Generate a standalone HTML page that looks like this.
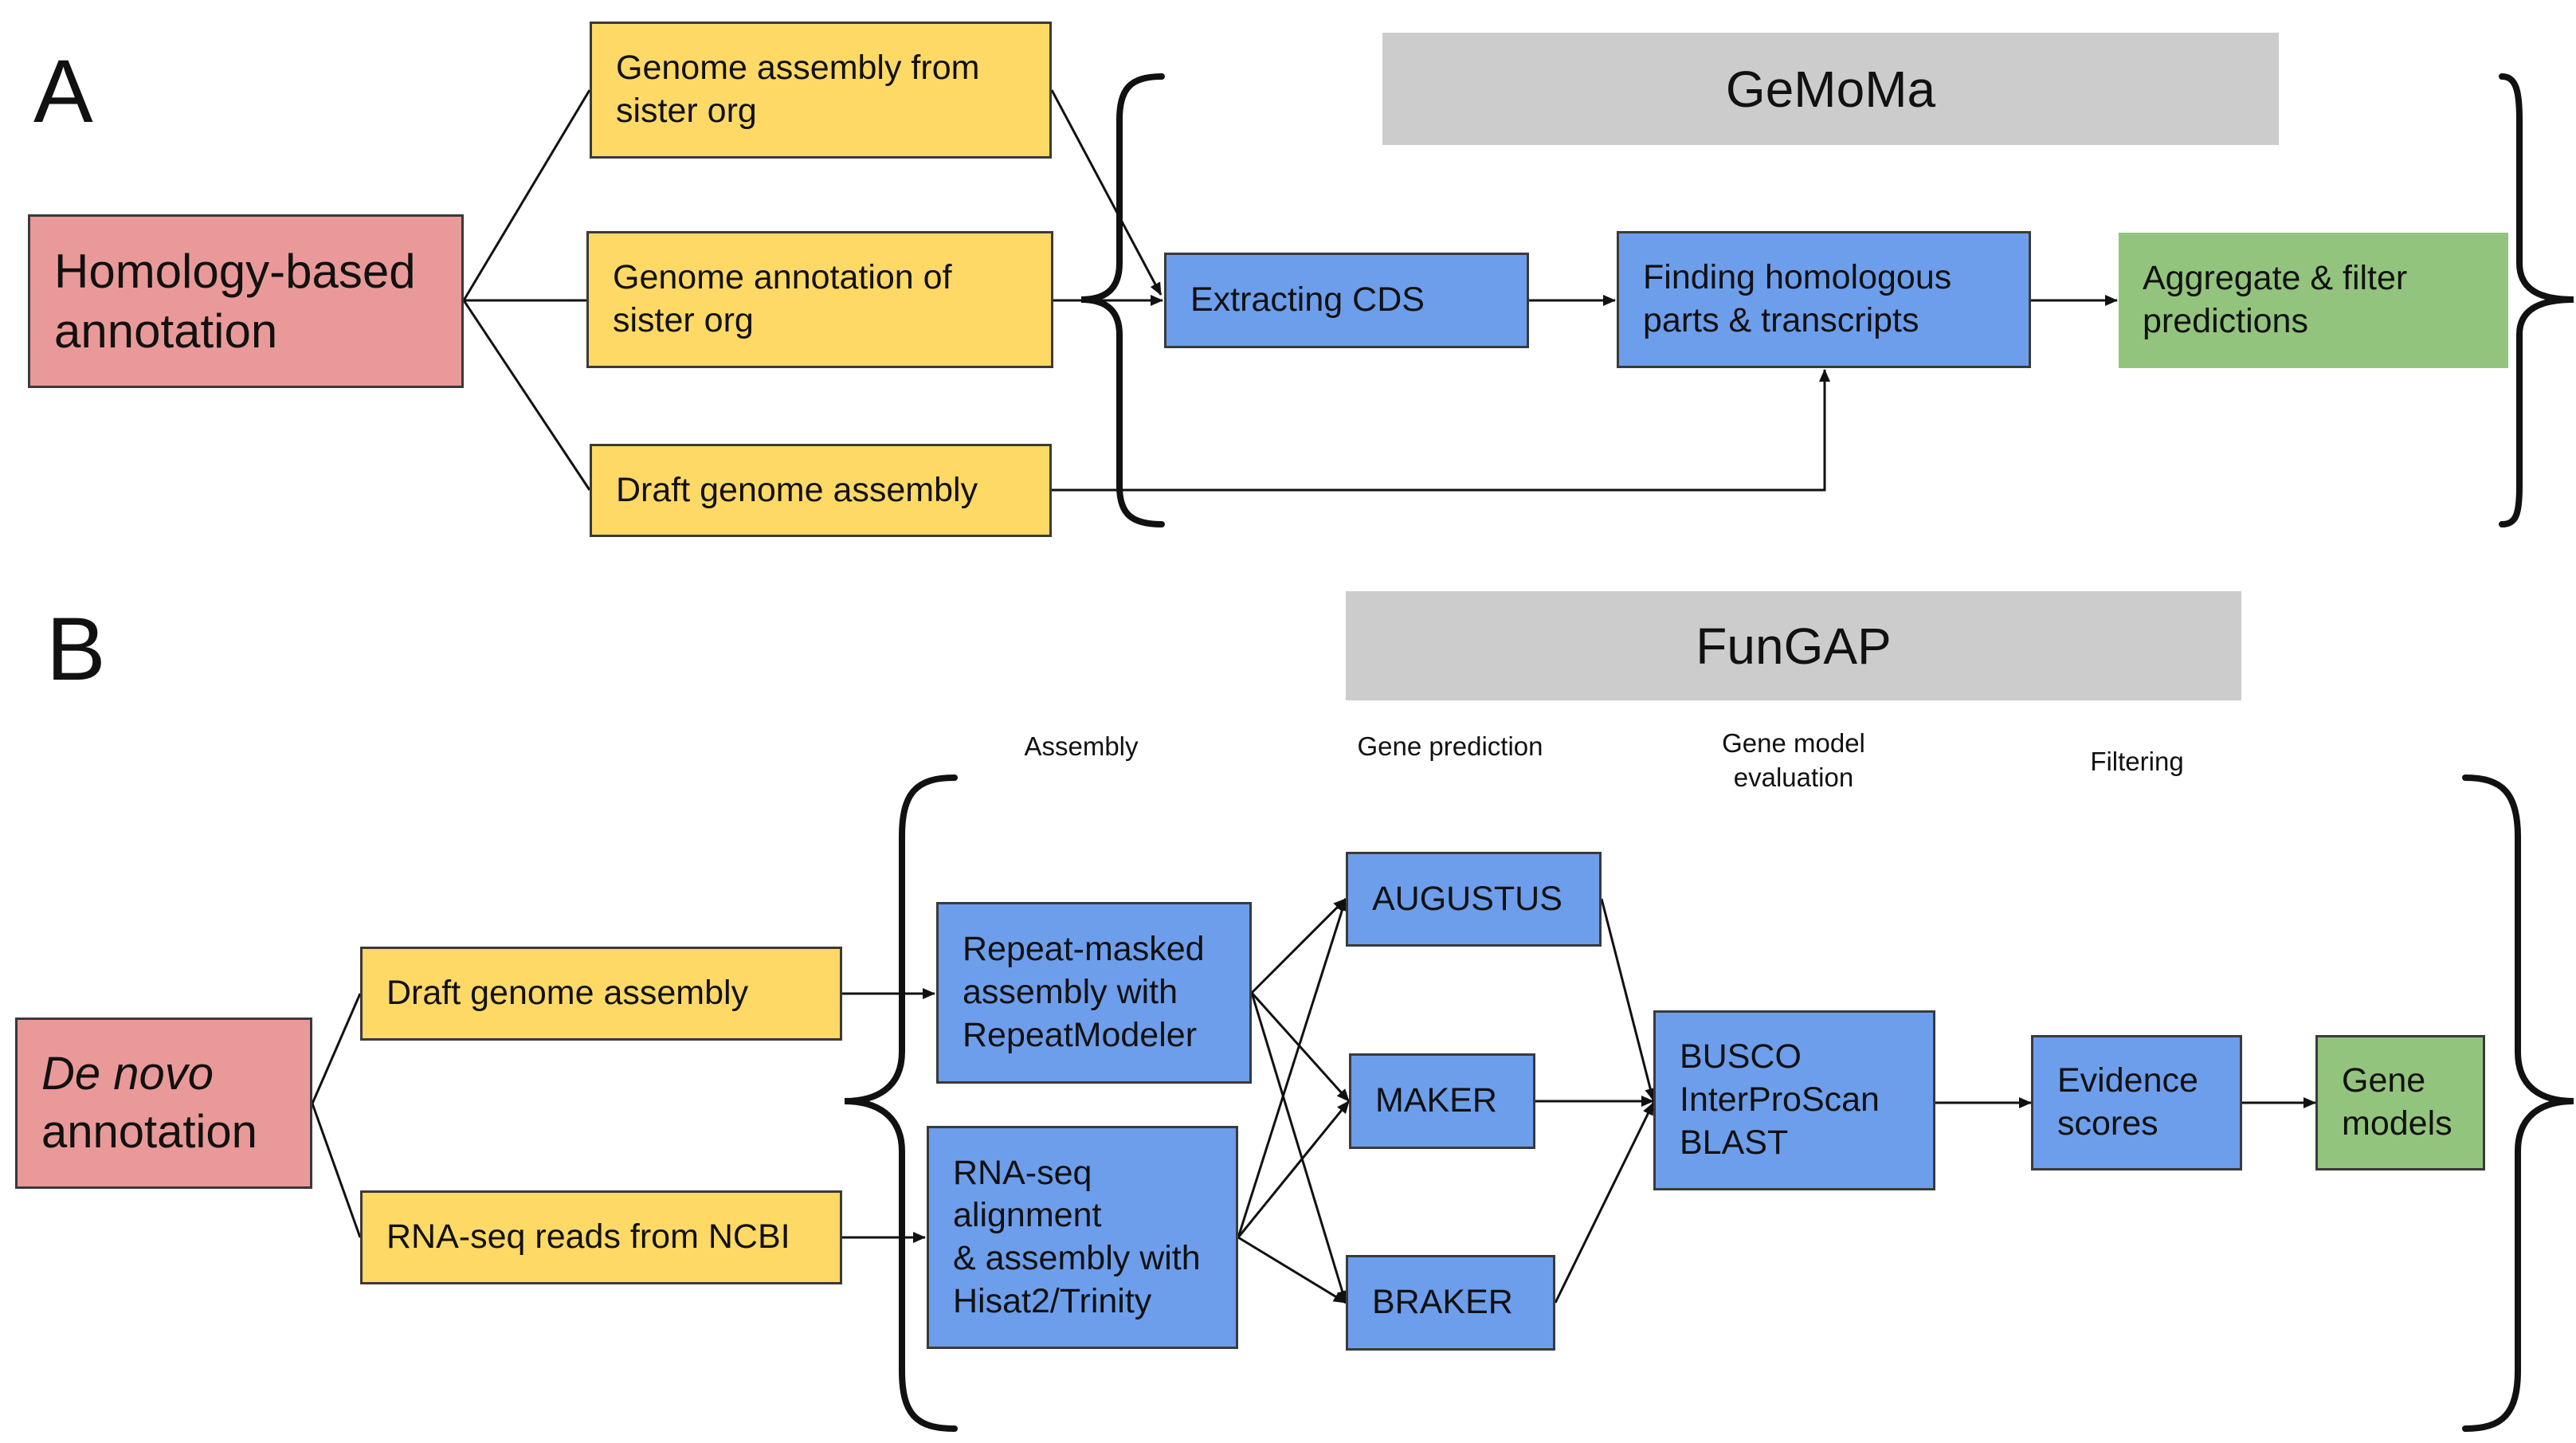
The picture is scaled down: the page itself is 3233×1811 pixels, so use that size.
<!DOCTYPE html>
<html><head><meta charset="utf-8"><style>
body{margin:0;background:#fff;}
#c{position:relative;width:3233px;height:1811px;overflow:hidden;font-family:"Liberation Sans",sans-serif;color:#111;}
.b{position:absolute;box-sizing:border-box;border:3px solid #3a3a3a;display:flex;align-items:center;padding-left:30px;font-size:43px;line-height:1.25;}
.y{background:#ffd966}.bl{background:#6d9eeb}.p{background:#ea9999}.g{background:#93c47d}
.gr{position:absolute;background:#cccccc;display:flex;align-items:center;justify-content:center;font-size:64px;}
.l{position:absolute;font-size:33px;text-align:center;line-height:1.3;transform:translateX(-50%);white-space:nowrap;}
svg{position:absolute;left:0;top:0;}
</style></head><body><div id="c">
<svg width="3233" height="1811">
<defs><marker id="a" markerWidth="10" markerHeight="10" refX="9" refY="5" orient="auto" markerUnits="userSpaceOnUse"><path d="M0,0 L10,5 L0,10 z" fill="#111"/></marker>
<marker id="a2" markerWidth="16" markerHeight="14" refX="15" refY="7" orient="auto" markerUnits="userSpaceOnUse"><path d="M0,0 L16,7 L0,14 z" fill="#111"/></marker></defs>
<g stroke="#111" stroke-width="3" fill="none">
<line x1="582" y1="377" x2="740" y2="113"/>
<line x1="582" y1="377" x2="736" y2="377"/>
<line x1="582" y1="377" x2="740" y2="615"/>
<line x1="1320" y1="113" x2="1457" y2="370" marker-end="url(#a2)"/>
<line x1="1322" y1="377" x2="1459" y2="377" marker-end="url(#a2)"/>
<line x1="1919" y1="377" x2="2027" y2="377" marker-end="url(#a2)"/>
<line x1="2549" y1="377" x2="2657" y2="377" marker-end="url(#a2)"/>
<polyline points="1320,615 2290,615 2290,464" marker-end="url(#a2)"/>
<line x1="392" y1="1385" x2="452" y2="1247"/>
<line x1="392" y1="1385" x2="452" y2="1553"/>
<line x1="1057" y1="1247" x2="1173" y2="1247" marker-end="url(#a2)"/>
<line x1="1057" y1="1553" x2="1161" y2="1553" marker-end="url(#a2)"/>
<line x1="1571" y1="1246" x2="1689" y2="1128" marker-end="url(#a2)"/>
<line x1="1571" y1="1246" x2="1693" y2="1382" marker-end="url(#a2)"/>
<line x1="1571" y1="1246" x2="1689" y2="1635" marker-end="url(#a2)"/>
<line x1="1554" y1="1553" x2="1689" y2="1128" marker-end="url(#a2)"/>
<line x1="1554" y1="1553" x2="1693" y2="1382" marker-end="url(#a2)"/>
<line x1="1554" y1="1553" x2="1689" y2="1635" marker-end="url(#a2)"/>
<line x1="2010" y1="1128" x2="2075" y2="1381" marker-end="url(#a2)"/>
<line x1="1927" y1="1382" x2="2075" y2="1382" marker-end="url(#a2)"/>
<line x1="1952" y1="1635" x2="2075" y2="1384" marker-end="url(#a2)"/>
<line x1="2429" y1="1384" x2="2549" y2="1384" marker-end="url(#a2)"/>
<line x1="2814" y1="1384" x2="2906" y2="1384" marker-end="url(#a2)"/>
</g>
<g stroke="#111" stroke-width="8" fill="none" stroke-linecap="round">
<path d="M1458,96 C1420,96 1405,110 1405,150 L1405,330 C1405,365 1385,376 1357,376 C1385,376 1405,387 1405,420 L1405,610 C1405,645 1420,658 1458,658"/>
<path d="M3140,96 C3158,96 3162,115 3162,150 L3162,330 C3162,365 3190,376 3230,376 C3190,376 3162,387 3162,420 L3162,610 C3162,645 3158,658 3140,658"/>
<path d="M1198,976 C1150,976 1132,995 1132,1050 L1132,1320 C1132,1365 1100,1382 1060,1382 C1100,1382 1132,1400 1132,1445 L1132,1720 C1132,1775 1150,1793 1198,1793"/>
<path d="M3094,976 C3140,976 3160,995 3160,1050 L3160,1320 C3160,1365 3190,1382 3230,1382 C3190,1382 3160,1400 3160,1445 L3160,1720 C3160,1775 3140,1793 3094,1793"/>
</g>
</svg>
<div style="position:absolute;left:42px;top:50px;font-size:112px;">A</div>
<div style="position:absolute;left:58px;top:750px;font-size:112px;">B</div>
<div class="b p" style="left:35px;top:269px;width:547px;height:218px;font-size:60px;">Homology-based<br>annotation</div>
<div class="b y" style="left:740px;top:27px;width:580px;height:172px;">Genome assembly from<br>sister org</div>
<div class="b y" style="left:736px;top:290px;width:586px;height:172px;">Genome annotation of<br>sister org</div>
<div class="b y" style="left:740px;top:557px;width:580px;height:117px;">Draft genome assembly</div>
<div class="gr" style="left:1735px;top:41px;width:1125px;height:141px;">GeMoMa</div>
<div class="b bl" style="left:1461px;top:317px;width:458px;height:120px;">Extracting CDS</div>
<div class="b bl" style="left:2029px;top:290px;width:520px;height:172px;">Finding homologous<br>parts &amp; transcripts</div>
<div class="b g" style="left:2659px;top:292px;width:489px;height:170px;border:none;padding-left:30px;">Aggregate &amp; filter<br>predictions</div>
<div class="gr" style="left:1689px;top:742px;width:1124px;height:137px;">FunGAP</div>
<div class="l" style="left:1357px;top:916px;">Assembly</div>
<div class="l" style="left:1820px;top:916px;">Gene prediction</div>
<div class="l" style="left:2251px;top:912px;">Gene model<br>evaluation</div>
<div class="l" style="left:2682px;top:935px;">Filtering</div>
<div class="b p" style="left:19px;top:1277px;width:373px;height:215px;font-size:58px;"><span><i>De novo</i><br>annotation</span></div>
<div class="b y" style="left:452px;top:1188px;width:605px;height:118px;">Draft genome assembly</div>
<div class="b y" style="left:452px;top:1494px;width:605px;height:118px;">RNA-seq reads from NCBI</div>
<div class="b bl" style="left:1175px;top:1132px;width:396px;height:228px;">Repeat-masked<br>assembly with<br>RepeatModeler</div>
<div class="b bl" style="left:1163px;top:1413px;width:391px;height:280px;">RNA-seq<br>alignment<br>&amp; assembly with<br>Hisat2/Trinity</div>
<div class="b bl" style="left:1689px;top:1069px;width:321px;height:119px;">AUGUSTUS</div>
<div class="b bl" style="left:1693px;top:1322px;width:234px;height:120px;">MAKER</div>
<div class="b bl" style="left:1689px;top:1575px;width:263px;height:120px;">BRAKER</div>
<div class="b bl" style="left:2075px;top:1268px;width:354px;height:226px;">BUSCO<br>InterProScan<br>BLAST</div>
<div class="b bl" style="left:2549px;top:1299px;width:265px;height:170px;">Evidence<br>scores</div>
<div class="b g" style="left:2906px;top:1299px;width:213px;height:170px;">Gene<br>models</div>
</div></body></html>
